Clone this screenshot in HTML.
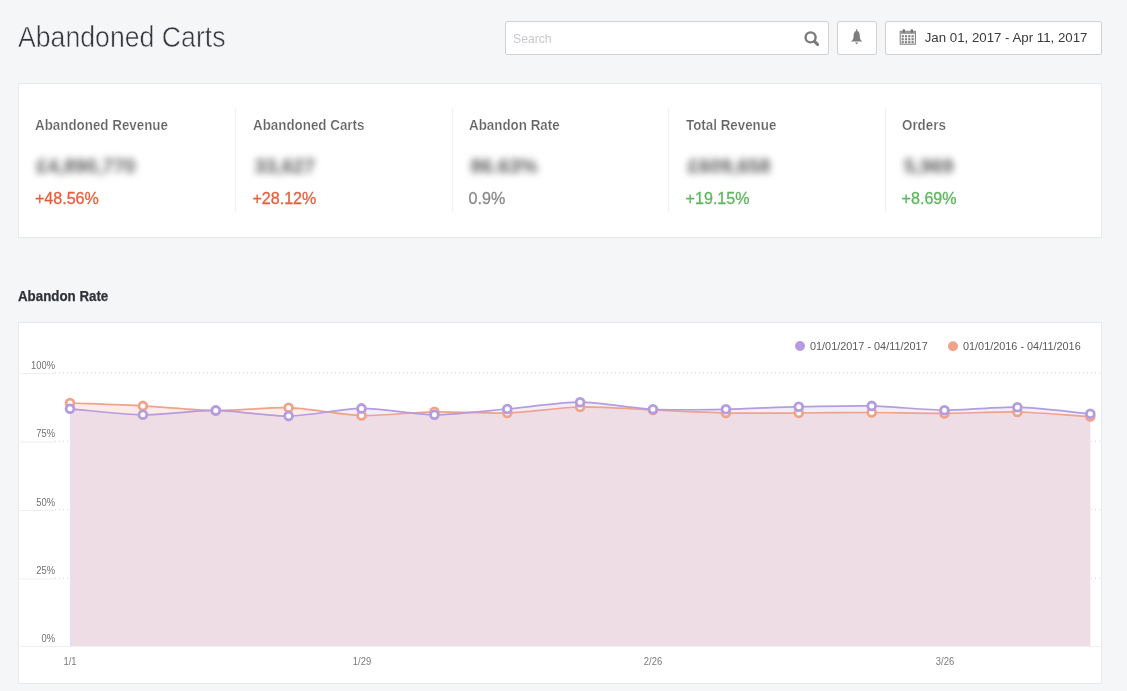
<!DOCTYPE html>
<html><head><meta charset="utf-8"><title>Abandoned Carts</title>
<style>
html,body{margin:0;padding:0;}
body{width:1127px;height:691px;background:#f5f6f8;font-family:"Liberation Sans",sans-serif;position:relative;overflow:hidden;}
.t{position:absolute;white-space:nowrap;line-height:1;}
.box{position:absolute;box-sizing:border-box;background:#fff;}
.ctl{border:1px solid #d0d2d6;border-radius:2px;}
.card{border:1px solid #e7e9ec;}
.div{position:absolute;width:1px;background:#efefef;top:108px;height:104px;}
.blur{position:absolute;white-space:nowrap;line-height:1;filter:blur(3.5px);color:#5c5c5c;font-weight:700;}
svg{position:absolute;left:0;top:0;}
#wrap{position:absolute;left:0;top:0;width:1127px;height:691px;will-change:transform;}
</style></head><body><div id="wrap">

<div class="t" style="left:17.60px;top:22.60px;font-size:28.8px;color:#34373c;font-weight:400;-webkit-text-stroke:0.55px #f5f6f8;transform:scaleX(0.926);transform-origin:0 0;">Abandoned Carts</div>
<div class="box ctl" style="left:505px;top:21px;width:324px;height:34px;"></div>
<div class="t" style="left:512.80px;top:31.90px;font-size:13.2px;color:#c6c8cb;font-weight:400;transform:scaleX(0.925);transform-origin:0 0;">Search</div>
<div class="box ctl" style="left:837px;top:21px;width:40px;height:34px;"></div>
<div class="box ctl" style="left:885px;top:21px;width:217px;height:34px;"></div>
<div class="t" style="left:924.70px;top:30.87px;font-size:13.27px;color:#3a3a3a;font-weight:400;">Jan 01, 2017 - Apr 11, 2017</div>
<div class="box card" style="left:18px;top:83px;width:1084px;height:155px;"></div>
<div class="div" style="left:235px"></div>
<div class="div" style="left:452px"></div>
<div class="div" style="left:668px"></div>
<div class="div" style="left:885px"></div>
<div class="t" style="left:35.20px;top:118.00px;font-size:14px;color:#646464;font-weight:700;-webkit-text-stroke:0.22px #fff;transform:scaleX(0.955);transform-origin:0 0;">Abandoned Revenue</div>
<div class="t" style="left:253.00px;top:118.00px;font-size:14px;color:#646464;font-weight:700;-webkit-text-stroke:0.22px #fff;transform:scaleX(0.955);transform-origin:0 0;">Abandoned Carts</div>
<div class="t" style="left:469.00px;top:118.00px;font-size:14px;color:#646464;font-weight:700;-webkit-text-stroke:0.22px #fff;transform:scaleX(0.955);transform-origin:0 0;">Abandon Rate</div>
<div class="t" style="left:686.20px;top:118.00px;font-size:14px;color:#646464;font-weight:700;-webkit-text-stroke:0.22px #fff;transform:scaleX(0.955);transform-origin:0 0;">Total Revenue</div>
<div class="t" style="left:901.80px;top:118.00px;font-size:14px;color:#646464;font-weight:700;-webkit-text-stroke:0.22px #fff;transform:scaleX(0.955);transform-origin:0 0;">Orders</div>
<div class="t" style="left:34.90px;top:189.95px;font-size:16.1px;color:#e4613c;font-weight:400;-webkit-text-stroke:0.3px #e4613c;">+48.56%</div>
<div class="t" style="left:252.40px;top:189.95px;font-size:16.1px;color:#e4613c;font-weight:400;-webkit-text-stroke:0.3px #e4613c;">+28.12%</div>
<div class="t" style="left:468.60px;top:189.95px;font-size:16.1px;color:#8a8a8a;font-weight:400;-webkit-text-stroke:0.3px #8a8a8a;">0.9%</div>
<div class="t" style="left:685.60px;top:189.95px;font-size:16.1px;color:#5cb85c;font-weight:400;-webkit-text-stroke:0.3px #5cb85c;">+19.15%</div>
<div class="t" style="left:901.60px;top:189.95px;font-size:16.1px;color:#5cb85c;font-weight:400;-webkit-text-stroke:0.3px #5cb85c;">+8.69%</div>
<div class="blur" style="left:36.5px;top:157.4px;font-size:19.8px;width:96px;overflow:visible;">£4,890,770</div>
<div class="blur" style="left:254.5px;top:157.4px;font-size:19.8px;width:56px;overflow:visible;">33,627</div>
<div class="blur" style="left:470.5px;top:157.4px;font-size:19.8px;width:64px;overflow:visible;">86.63%</div>
<div class="blur" style="left:688px;top:157.4px;font-size:19.8px;width:78px;overflow:visible;">£609,658</div>
<div class="blur" style="left:904px;top:157.4px;font-size:19.8px;width:47px;overflow:visible;">5,969</div>
<div class="t" style="left:18.10px;top:288.60px;font-size:14.8px;color:#2f3237;font-weight:700;-webkit-text-stroke:0.25px #2f3237;transform:scaleX(0.9);transform-origin:0 0;">Abandon Rate</div>
<div class="box card" style="left:18px;top:322px;width:1084px;height:362px;"></div>
<svg width="1127" height="691" viewBox="0 0 1127 691"><g stroke="#7b7b7b" fill="none" stroke-linecap="round"><circle cx="810.6" cy="37.4" r="5" stroke-width="2.4"/><path d="M814.5 41.4 L817.6 44.5" stroke-width="3.1"/></g><path fill="#7d7d7d" d="M856.1 29.2 h1.2 v1.9 c1.6 0.5 2.5 2.2 2.5 4.9 c0 2.6 0.7 4.1 2.6 5.6 h-11.4 c1.9 -1.5 2.6 -3 2.6 -5.6 c0 -2.7 0.9 -4.4 2.5 -4.9 z M855.3 42.5 h2.8 a1.4 1.4 0 0 1 -2.8 0 z"/><g><rect x="900.2" y="31.3" width="15.2" height="12.9" fill="none" stroke="#7d7d7d" stroke-width="1"/><rect x="900.2" y="31.3" width="15.2" height="2.6" fill="#9a9a9a"/><rect x="902.6" y="29.2" width="2.4" height="3.6" rx="0.8" fill="#777"/><rect x="910.6" y="29.2" width="2.4" height="3.6" rx="0.8" fill="#777"/><rect x="901.6" y="35.2" width="2.2" height="2.1" fill="#808080"/><rect x="904.9" y="35.2" width="2.2" height="2.1" fill="#808080"/><rect x="908.2" y="35.2" width="2.2" height="2.1" fill="#808080"/><rect x="911.5" y="35.2" width="2.2" height="2.1" fill="#808080"/><rect x="901.6" y="38.2" width="2.2" height="2.1" fill="#808080"/><rect x="904.9" y="38.2" width="2.2" height="2.1" fill="#808080"/><rect x="908.2" y="38.2" width="2.2" height="2.1" fill="#808080"/><rect x="911.5" y="38.2" width="2.2" height="2.1" fill="#808080"/><rect x="901.6" y="41.1" width="2.2" height="2.1" fill="#808080"/><rect x="904.9" y="41.1" width="2.2" height="2.1" fill="#808080"/><rect x="908.2" y="41.1" width="2.2" height="2.1" fill="#808080"/><rect x="911.5" y="41.1" width="2.2" height="2.1" fill="#808080"/></g><path d="M55,372.8H1101" stroke="#cfd1d4" stroke-width="1" stroke-dasharray="1 3" fill="none"/><rect x="20" y="373.1" width="35" height="1" fill="#eeeef0"/><path d="M55,441.2H69" stroke="#cfd1d4" stroke-width="1" stroke-dasharray="1 3" fill="none"/><path d="M1091,441.2H1101" stroke="#cfd1d4" stroke-width="1" stroke-dasharray="1 3" fill="none"/><rect x="20" y="441.5" width="35" height="1" fill="#eeeef0"/><path d="M55,509.7H69" stroke="#cfd1d4" stroke-width="1" stroke-dasharray="1 3" fill="none"/><path d="M1091,509.7H1101" stroke="#cfd1d4" stroke-width="1" stroke-dasharray="1 3" fill="none"/><rect x="20" y="510.0" width="35" height="1" fill="#eeeef0"/><path d="M55,578.1H69" stroke="#cfd1d4" stroke-width="1" stroke-dasharray="1 3" fill="none"/><path d="M1091,578.1H1101" stroke="#cfd1d4" stroke-width="1" stroke-dasharray="1 3" fill="none"/><rect x="20" y="578.4" width="35" height="1" fill="#eeeef0"/><rect x="20" y="646" width="1081" height="1" fill="#f0f0f2"/><path d="M70.0,403.0C88.2,403.7,124.7,404.9,142.9,405.9C161.1,406.8,197.5,410.4,215.8,410.6C234.0,410.8,270.4,407.1,288.6,407.7C306.9,408.3,343.3,415.0,361.5,415.5C379.7,416.0,416.2,412.1,434.4,411.8C452.6,411.5,489.1,413.6,507.3,413.0C525.5,412.4,561.9,407.4,580.1,407.0C598.4,406.6,634.8,409.2,653.0,410.0C671.2,410.8,707.7,412.6,725.9,413.0C744.1,413.4,780.6,413.1,798.8,413.0C817.0,412.9,853.4,412.4,871.7,412.5C889.9,412.6,926.3,413.5,944.5,413.4C962.8,413.3,999.2,411.6,1017.4,412.0C1035.6,412.4,1072.1,415.4,1090.3,416.5L1090.3,646.0L70.0,646.0Z" fill="#f0a38b" fill-opacity="0.22" stroke="none"/><path d="M70.0,408.8C88.2,410.3,124.7,414.6,142.9,414.8C161.1,415.0,197.5,410.2,215.8,410.4C234.0,410.6,270.4,416.4,288.6,416.1C306.9,415.9,343.3,408.6,361.5,408.4C379.7,408.2,416.2,414.7,434.4,414.8C452.6,414.9,489.1,410.6,507.3,409.0C525.5,407.4,561.9,402.2,580.1,402.2C598.4,402.2,634.8,408.4,653.0,409.3C671.2,410.2,707.7,409.6,725.9,409.3C744.1,409.0,780.6,407.1,798.8,406.7C817.0,406.3,853.4,405.5,871.7,405.9C889.9,406.3,926.3,410.0,944.5,410.2C962.8,410.4,999.2,406.8,1017.4,407.2C1035.6,407.6,1072.1,412.1,1090.3,413.8L1090.3,646.0L70.0,646.0Z" fill="#b49ce0" fill-opacity="0.18" stroke="none"/><rect x="70" y="410" width="4.4" height="236" fill="rgb(205,226,255)" fill-opacity="0.2"/><path d="M70.0,403.0C88.2,403.7,124.7,404.9,142.9,405.9C161.1,406.8,197.5,410.4,215.8,410.6C234.0,410.8,270.4,407.1,288.6,407.7C306.9,408.3,343.3,415.0,361.5,415.5C379.7,416.0,416.2,412.1,434.4,411.8C452.6,411.5,489.1,413.6,507.3,413.0C525.5,412.4,561.9,407.4,580.1,407.0C598.4,406.6,634.8,409.2,653.0,410.0C671.2,410.8,707.7,412.6,725.9,413.0C744.1,413.4,780.6,413.1,798.8,413.0C817.0,412.9,853.4,412.4,871.7,412.5C889.9,412.6,926.3,413.5,944.5,413.4C962.8,413.3,999.2,411.6,1017.4,412.0C1035.6,412.4,1072.1,415.4,1090.3,416.5" fill="none" stroke="#f0a38b" stroke-width="1.7" stroke-linejoin="round"/><circle cx="70.0" cy="403.0" r="3.9" fill="#fff" stroke="#f0a38b" stroke-width="2.8"/><circle cx="142.9" cy="405.9" r="3.9" fill="#fff" stroke="#f0a38b" stroke-width="2.8"/><circle cx="215.8" cy="410.6" r="3.9" fill="#fff" stroke="#f0a38b" stroke-width="2.8"/><circle cx="288.6" cy="407.7" r="3.9" fill="#fff" stroke="#f0a38b" stroke-width="2.8"/><circle cx="361.5" cy="415.5" r="3.9" fill="#fff" stroke="#f0a38b" stroke-width="2.8"/><circle cx="434.4" cy="411.8" r="3.9" fill="#fff" stroke="#f0a38b" stroke-width="2.8"/><circle cx="507.3" cy="413.0" r="3.9" fill="#fff" stroke="#f0a38b" stroke-width="2.8"/><circle cx="580.1" cy="407.0" r="3.9" fill="#fff" stroke="#f0a38b" stroke-width="2.8"/><circle cx="653.0" cy="410.0" r="3.9" fill="#fff" stroke="#f0a38b" stroke-width="2.8"/><circle cx="725.9" cy="413.0" r="3.9" fill="#fff" stroke="#f0a38b" stroke-width="2.8"/><circle cx="798.8" cy="413.0" r="3.9" fill="#fff" stroke="#f0a38b" stroke-width="2.8"/><circle cx="871.7" cy="412.5" r="3.9" fill="#fff" stroke="#f0a38b" stroke-width="2.8"/><circle cx="944.5" cy="413.4" r="3.9" fill="#fff" stroke="#f0a38b" stroke-width="2.8"/><circle cx="1017.4" cy="412.0" r="3.9" fill="#fff" stroke="#f0a38b" stroke-width="2.8"/><circle cx="1090.3" cy="416.5" r="3.9" fill="#fff" stroke="#f0a38b" stroke-width="2.8"/><path d="M70.0,408.8C88.2,410.3,124.7,414.6,142.9,414.8C161.1,415.0,197.5,410.2,215.8,410.4C234.0,410.6,270.4,416.4,288.6,416.1C306.9,415.9,343.3,408.6,361.5,408.4C379.7,408.2,416.2,414.7,434.4,414.8C452.6,414.9,489.1,410.6,507.3,409.0C525.5,407.4,561.9,402.2,580.1,402.2C598.4,402.2,634.8,408.4,653.0,409.3C671.2,410.2,707.7,409.6,725.9,409.3C744.1,409.0,780.6,407.1,798.8,406.7C817.0,406.3,853.4,405.5,871.7,405.9C889.9,406.3,926.3,410.0,944.5,410.2C962.8,410.4,999.2,406.8,1017.4,407.2C1035.6,407.6,1072.1,412.1,1090.3,413.8" fill="none" stroke="#b49ce0" stroke-width="1.7" stroke-linejoin="round"/><circle cx="70.0" cy="408.8" r="3.9" fill="#fff" stroke="#b49ce0" stroke-width="2.8"/><circle cx="142.9" cy="414.8" r="3.9" fill="#fff" stroke="#b49ce0" stroke-width="2.8"/><circle cx="215.8" cy="410.4" r="3.9" fill="#fff" stroke="#b49ce0" stroke-width="2.8"/><circle cx="288.6" cy="416.1" r="3.9" fill="#fff" stroke="#b49ce0" stroke-width="2.8"/><circle cx="361.5" cy="408.4" r="3.9" fill="#fff" stroke="#b49ce0" stroke-width="2.8"/><circle cx="434.4" cy="414.8" r="3.9" fill="#fff" stroke="#b49ce0" stroke-width="2.8"/><circle cx="507.3" cy="409.0" r="3.9" fill="#fff" stroke="#b49ce0" stroke-width="2.8"/><circle cx="580.1" cy="402.2" r="3.9" fill="#fff" stroke="#b49ce0" stroke-width="2.8"/><circle cx="653.0" cy="409.3" r="3.9" fill="#fff" stroke="#b49ce0" stroke-width="2.8"/><circle cx="725.9" cy="409.3" r="3.9" fill="#fff" stroke="#b49ce0" stroke-width="2.8"/><circle cx="798.8" cy="406.7" r="3.9" fill="#fff" stroke="#b49ce0" stroke-width="2.8"/><circle cx="871.7" cy="405.9" r="3.9" fill="#fff" stroke="#b49ce0" stroke-width="2.8"/><circle cx="944.5" cy="410.2" r="3.9" fill="#fff" stroke="#b49ce0" stroke-width="2.8"/><circle cx="1017.4" cy="407.2" r="3.9" fill="#fff" stroke="#b49ce0" stroke-width="2.8"/><circle cx="1090.3" cy="413.8" r="3.9" fill="#fff" stroke="#b49ce0" stroke-width="2.8"/><circle cx="800" cy="346" r="5" fill="#b49ce0"/><circle cx="953" cy="346.2" r="5" fill="#f0a38b"/></svg>
<div class="t" style="left:810.00px;top:341.45px;font-size:11.1px;color:#5a5a5a;font-weight:400;transform:scaleX(0.98);transform-origin:0 0;">01/01/2017 - 04/11/2017</div>
<div class="t" style="left:963.00px;top:341.45px;font-size:11.1px;color:#5a5a5a;font-weight:400;transform:scaleX(0.98);transform-origin:0 0;">01/01/2016 - 04/11/2016</div>
<div class="t" style="left:15px;width:40px;text-align:right;top:361.40px;font-size:10.2px;color:#707070;transform:scaleX(0.92);transform-origin:100% 0;">100%</div>
<div class="t" style="left:15px;width:40px;text-align:right;top:429.40px;font-size:10.2px;color:#707070;transform:scaleX(0.92);transform-origin:100% 0;">75%</div>
<div class="t" style="left:15px;width:40px;text-align:right;top:498.40px;font-size:10.2px;color:#707070;transform:scaleX(0.92);transform-origin:100% 0;">50%</div>
<div class="t" style="left:15px;width:40px;text-align:right;top:566.40px;font-size:10.2px;color:#707070;transform:scaleX(0.92);transform-origin:100% 0;">25%</div>
<div class="t" style="left:15px;width:40px;text-align:right;top:634.40px;font-size:10.2px;color:#707070;transform:scaleX(0.92);transform-origin:100% 0;">0%</div>
<div class="t" style="left:40.400000000000006px;width:60px;text-align:center;top:657.40px;font-size:10.2px;color:#7a7a7a;transform:scaleX(0.92);transform-origin:50% 0;">1/1</div>
<div class="t" style="left:331.5px;width:60px;text-align:center;top:657.40px;font-size:10.2px;color:#7a7a7a;transform:scaleX(0.92);transform-origin:50% 0;">1/29</div>
<div class="t" style="left:623.0px;width:60px;text-align:center;top:657.40px;font-size:10.2px;color:#7a7a7a;transform:scaleX(0.92);transform-origin:50% 0;">2/26</div>
<div class="t" style="left:915.0px;width:60px;text-align:center;top:657.40px;font-size:10.2px;color:#7a7a7a;transform:scaleX(0.92);transform-origin:50% 0;">3/26</div>
</div></body></html>
